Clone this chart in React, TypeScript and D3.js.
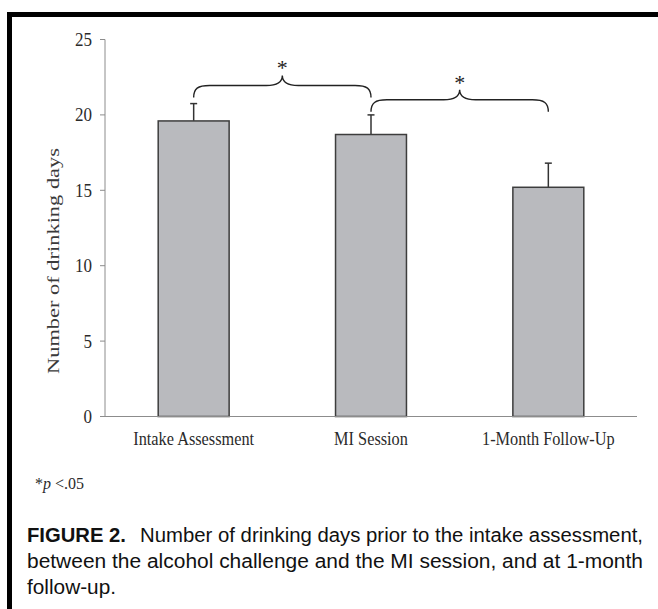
import React from "react";
import * as d3 from "d3";

const categories = ["Intake Assessment", "MI Session", "1-Month Follow-Up"];
const means = [19.6, 18.7, 15.2];
const errorTops = [20.75, 20.0, 16.8];
const yTicks = [0, 5, 10, 15, 20, 25];
// significance braces: [from index, to index, level of flat part]
const braces = [
  { from: 0, to: 1, level: 21.95 },
  { from: 1, to: 2, level: 21.0 },
];
const yLabel = "Number of drinking days";
const footnote = "p <.05";
const captionBold = "FIGURE 2.";
const captionLines = [
  "Number of drinking days prior to the intake assessment,",
  "between the alcohol challenge and the MI session, and at 1-month",
  "follow-up.",
];

const W = 658;
const H = 609;
const serif = "'Liberation Serif', 'Times New Roman', serif";
const sans = "'Liberation Sans', Arial, Helvetica, sans-serif";

export default function App() {
  const x = d3
    .scaleBand<string>()
    .domain(categories)
    .range([105, 637])
    .paddingInner(0.6)
    .paddingOuter(0.3);
  const y = d3.scaleLinear().domain([0, 25]).range([416.5, 39.5]);
  const cx = (i: number) => (x(categories[i]) as number) + x.bandwidth() / 2;

  const bracePath = (x1: number, x2: number, yf: number) => {
    const xm = (x1 + x2) / 2;
    const end = 12;
    const peak = 10;
    return [
      `M${x1},${yf + end}`,
      `C${x1},${yf + 3} ${x1 + 4},${yf} ${x1 + 16},${yf}`,
      `L${xm - 16},${yf}`,
      `C${xm - 5},${yf} ${xm},${yf - 3} ${xm},${yf - peak}`,
      `C${xm},${yf - 3} ${xm + 5},${yf} ${xm + 16},${yf}`,
      `L${x2 - 16},${yf}`,
      `C${x2 - 4},${yf} ${x2},${yf + 3} ${x2},${yf + end}`,
    ].join(" ");
  };

  return (
    <svg
      width={W}
      height={H}
      viewBox={`0 0 ${W} ${H}`}
      style={{ position: "absolute", left: 0, top: 0, background: "#fff" }}
    >
      {/* frame */}
      <rect x={7} y={12} width={W - 7} height={5} fill="#000" />
      <rect x={7} y={12} width={5} height={H - 12} fill="#000" />

      {/* y axis */}
      <line x1={105} x2={105} y1={y(25)} y2={y(0)} stroke="#8c8c8c" strokeWidth={1} />
      {yTicks.map((t) => (
        <g key={t}>
          <line x1={100} x2={105} y1={y(t)} y2={y(t)} stroke="#8c8c8c" strokeWidth={1} />
          <text
            transform={`translate(92,${y(t)}) scale(1,1.1)`}
            dy="0.35em"
            textAnchor="end"
            fontFamily={serif}
            fontSize={17}
            fill="#2a2a2a"
          >
            {t}
          </text>
        </g>
      ))}
      <text
        transform={`translate(53,261) rotate(-90)`}
        textAnchor="middle"
        dy="0.35em"
        fontFamily={serif}
        fontSize={16.5}
        textLength={226}
        lengthAdjust="spacingAndGlyphs"
        fill="#3a3a3a"
      >
        {yLabel}
      </text>

      {/* bars */}
      {categories.map((c, i) => (
        <g key={c}>
          <line
            x1={cx(i)}
            x2={cx(i)}
            y1={y(means[i])}
            y2={y(errorTops[i])}
            stroke="#333"
            strokeWidth={1.5}
          />
          <line
            x1={cx(i) - 3.5}
            x2={cx(i) + 3.5}
            y1={y(errorTops[i])}
            y2={y(errorTops[i])}
            stroke="#333"
            strokeWidth={1.5}
          />
          <rect
            x={x(c)}
            y={y(means[i])}
            width={x.bandwidth()}
            height={y(0) - y(means[i])}
            fill="#b9babe"
            stroke="#3d3d3d"
            strokeWidth={1.5}
          />
        </g>
      ))}

      {/* x axis */}
      <line x1={105} x2={637} y1={y(0)} y2={y(0)} stroke="#8c8c8c" strokeWidth={1.2} />
      {categories.map((c, i) => (
        <text
          key={c}
          transform={`translate(${cx(i)},445) scale(1,1.1)`}
          textAnchor="middle"
          fontFamily={serif}
          fontSize={16.3}
          fill="#2a2a2a"
        >
          {c}
        </text>
      ))}

      {/* braces */}
      {braces.map((b, k) => {
        const x1 = cx(b.from);
        const x2 = cx(b.to);
        const yf = y(b.level);
        return (
          <g key={k}>
            <path d={bracePath(x1, x2, yf)} fill="none" stroke="#222" strokeWidth={1.4} />
            <text
              x={(x1 + x2) / 2}
              y={yf - 10}
              textAnchor="middle"
              fontFamily={serif}
              fontSize={22}
              fill="#222"
            >
              *
            </text>
          </g>
        );
      })}

      {/* footnote */}
      <text x={35} y={489} fontFamily={serif} fontSize={16} fill="#2a2a2a">
        *<tspan fontStyle="italic">{footnote.split(" ")[0]}</tspan>
        {" " + footnote.split(" ")[1]}
      </text>

      {/* caption */}
      <text
        x={27}
        y={542}
        fontFamily={sans}
        fontWeight="bold"
        fontSize={20}
        textLength={99}
        lengthAdjust="spacingAndGlyphs"
        fill="#111"
      >
        {captionBold}
      </text>
      <text
        x={140}
        y={542}
        fontFamily={sans}
        fontSize={20}
        textLength={503}
        lengthAdjust="spacingAndGlyphs"
        fill="#111"
      >
        {captionLines[0]}
      </text>
      <text
        x={27}
        y={568}
        fontFamily={sans}
        fontSize={20}
        textLength={616}
        lengthAdjust="spacingAndGlyphs"
        fill="#111"
      >
        {captionLines[1]}
      </text>
      <text
        x={27}
        y={594}
        fontFamily={sans}
        fontSize={20}
        textLength={89}
        lengthAdjust="spacingAndGlyphs"
        fill="#111"
      >
        {captionLines[2]}
      </text>
    </svg>
  );
}
